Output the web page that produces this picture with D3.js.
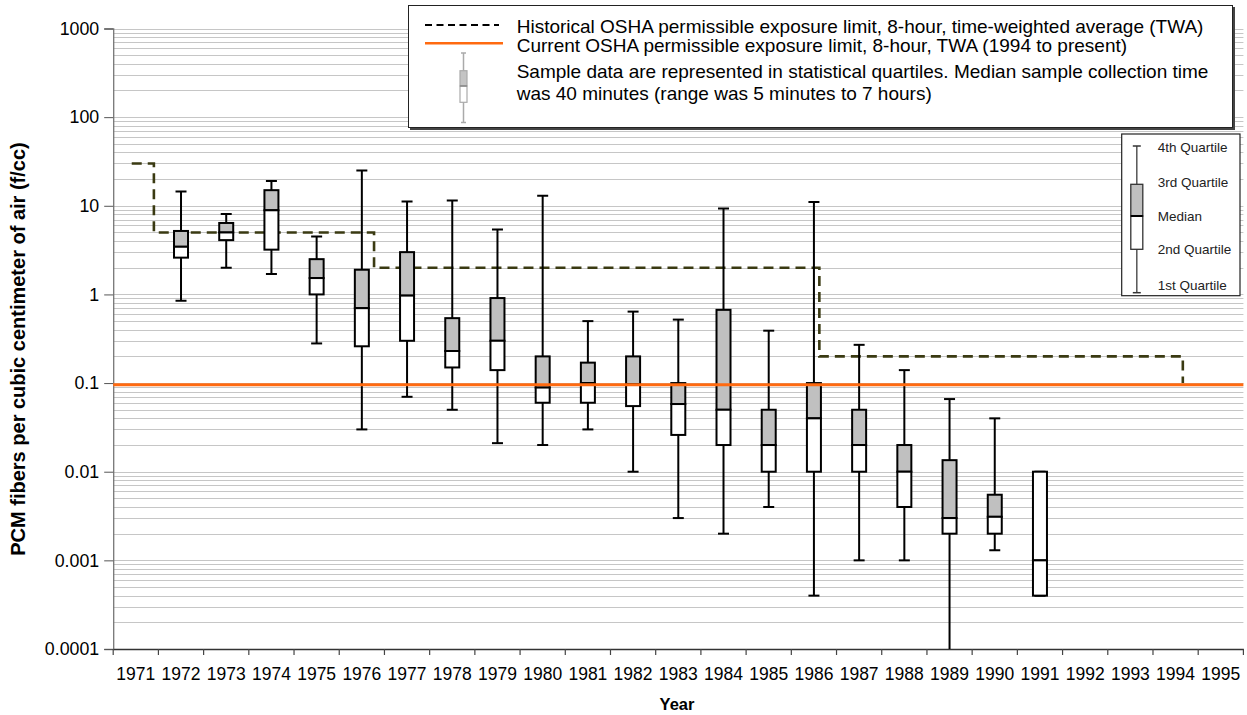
<!DOCTYPE html>
<html>
<head>
<meta charset="utf-8">
<script src="https://cdn.jsdelivr.net/npm/d3@7"></script>
<style>
  html, body { margin: 0; padding: 0; background: #fff; }
  svg { display: block; font-family: Arial, "Liberation Sans", sans-serif; }
</style>
</head>
<body>
<svg id="chart" width="1247" height="715"></svg>
<script>
// ---------------- DATA ----------------
const years = d3.range(1971, 1996).map(String);
const yTickValues = [0.0001, 0.001, 0.01, 0.1, 1, 10, 100, 1000];
const yTickLabels = ["0.0001", "0.001", "0.01", "0.1", "1", "10", "100", "1000"];

const boxYears = ["1972","1973","1974","1975","1976","1977","1978","1979","1980","1981",
                  "1982","1983","1984","1985","1986","1987","1988","1989","1990","1991"];
const maxValues    = [14.5, 8.1, 19, 4.5, 25, 11.2, 11.5, 5.4, 13, 0.5, 0.64, 0.52, 9.3, 0.39, 11, 0.27, 0.14, 0.066, 0.04, 0.01];
const q3Values     = [5.2, 6.4, 15, 2.5, 1.9, 3.0, 0.54, 0.91, 0.2, 0.17, 0.2, 0.1, 0.67, 0.05, 0.1, 0.05, 0.02, 0.0135, 0.0055, 0.01];
const medianValues = [3.45, 5.0, 8.9, 1.53, 0.70, 0.97, 0.23, 0.30, 0.089, 0.1, 0.097, 0.058, 0.05, 0.02, 0.04, 0.02, 0.01, 0.003, 0.0031, 0.001];
const q1Values     = [2.6, 4.1, 3.2, 1.0, 0.26, 0.30, 0.15, 0.14, 0.06, 0.06, 0.055, 0.026, 0.02, 0.01, 0.01, 0.01, 0.004, 0.002, 0.002, 0.0004];
const minValues    = [0.85, 2.0, 1.7, 0.28, 0.03, 0.07, 0.05, 0.021, 0.02, 0.03, 0.01, 0.003, 0.002, 0.004, 0.0004, 0.001, 0.001, 0.00005, 0.0013, 0.0004];
const upperShaded  = [true,true,true,true,true,true,true,true,true,true,true,true,true,true,true,true,true,true,true,false];

// Historical PEL step line (x in fractional year positions, value in f/cc)
const historicalPelYears  = [1970.91, 1971.40, 1976.27, 1986.12, 1994.16];
const historicalPelValues = [30, 5, 2, 0.2, 0.1];
const currentPelValue = 0.096;

const legendTexts = [
  "Historical OSHA permissible exposure limit, 8-hour, time-weighted average (TWA)",
  "Current OSHA permissible exposure limit, 8-hour, TWA (1994 to present)",
  "Sample data are represented in statistical quartiles. Median sample collection time",
  "was 40 minutes (range was 5 minutes to 7 hours)"
];
const quartileLabels = ["4th Quartile", "3rd Quartile", "Median", "2nd Quartile", "1st Quartile"];
const yTitle = "PCM fibers per cubic centimeter of air (f/cc)";
const xTitle = "Year";

// ---------------- LAYOUT ----------------
const svg = d3.select("#chart");
const plot = { left: 113.2, right: 1243.4, top: 28.5, bottom: 649 };

const x = d3.scaleBand().domain(years).range([plot.left, plot.right]).padding(0);
const xCont = d3.scaleLinear().domain([1970.5, 1995.5]).range([plot.left, plot.right]);
const y = d3.scaleLog().domain([0.0001, 1000]).range([plot.bottom, plot.top]);

svg.append("defs").append("clipPath").attr("id", "plotclip")
  .append("rect").attr("x", plot.left).attr("y", plot.top - 2)
  .attr("width", plot.right - plot.left).attr("height", plot.bottom - plot.top + 2);

// gridlines at all log ticks
const gridVals = [];
for (let e = -4; e <= 3; e++) for (let m = 1; m <= 9; m++) {
  const v = m * Math.pow(10, e);
  if (v <= 1000 * 1.0001) gridVals.push(v);
}
svg.append("g").selectAll("line").data(gridVals).join("line")
  .attr("x1", plot.left).attr("x2", plot.right)
  .attr("y1", d => Math.round(y(d)) + 0.5).attr("y2", d => Math.round(y(d)) + 0.5)
  .attr("stroke", "#c6c6c6").attr("stroke-width", 1.2);

// axes
const yAxis = d3.axisLeft(y).tickValues(yTickValues)
  .tickFormat((d, i) => yTickLabels[i]).tickSize(9).tickPadding(5);
const gy = svg.append("g").attr("transform", `translate(${plot.left},0)`).call(yAxis);
gy.select(".domain").attr("stroke", "#777").attr("stroke-width", 1.3);
gy.selectAll(".tick line").attr("stroke", "#555");
gy.selectAll(".tick text").attr("font-size", 17.8).attr("fill", "#000")
  .attr("font-family", "Arial, 'Liberation Sans', sans-serif");

const xAxis = d3.axisBottom(x).tickSize(0).tickPadding(19);
const gx = svg.append("g").attr("transform", `translate(0,${plot.bottom})`).call(xAxis);
gx.select(".domain").attr("stroke", "#333").attr("stroke-width", 1.3);
gx.selectAll(".tick text").attr("font-size", 17.5).attr("fill", "#000")
  .attr("font-family", "Arial, 'Liberation Sans', sans-serif");
// x ticks at band edges
const edges = years.map(d => x(d)).concat([plot.right]);
gx.append("g").selectAll("line").data(edges).join("line")
  .attr("x1", d => d).attr("x2", d => d).attr("y1", 0).attr("y2", 6)
  .attr("stroke", "#444").attr("stroke-width", 1.2);

// historical PEL dashed step line
const stepLine = d3.line().curve(d3.curveStepAfter)
  .x(d => xCont(d[0])).y(d => y(d[1]));
svg.append("path")
  .datum(historicalPelYears.map((t, i) => [t, historicalPelValues[i]]))
  .attr("d", stepLine).attr("fill", "none")
  .attr("stroke", "#3a3a12").attr("stroke-width", 2.6)
  .attr("stroke-dasharray", "10,6");

// box plots
const bw = 14, cap = 11;
const boxes = svg.append("g").attr("clip-path", "url(#plotclip)");
boxYears.forEach((yr, i) => {
  const cx = x(yr) + x.bandwidth() / 2;
  const g = boxes.append("g");
  g.append("line").attr("x1", cx).attr("x2", cx)
    .attr("y1", y(maxValues[i])).attr("y2", y(minValues[i]))
    .attr("stroke", "#000").attr("stroke-width", 2);
  [maxValues[i], minValues[i]].forEach(v => {
    g.append("line").attr("x1", cx - cap / 2).attr("x2", cx + cap / 2)
      .attr("y1", y(v)).attr("y2", y(v)).attr("stroke", "#000").attr("stroke-width", 2);
  });
  g.append("rect").attr("x", cx - bw / 2).attr("width", bw)
    .attr("y", y(q3Values[i])).attr("height", y(medianValues[i]) - y(q3Values[i]))
    .attr("fill", upperShaded[i] ? "#c0c0c0" : "#fff").attr("stroke", "#000").attr("stroke-width", 2);
  g.append("rect").attr("x", cx - bw / 2).attr("width", bw)
    .attr("y", y(medianValues[i])).attr("height", y(q1Values[i]) - y(medianValues[i]))
    .attr("fill", "#fff").attr("stroke", "#000").attr("stroke-width", 2);
});

// current PEL line
svg.append("line").attr("x1", plot.left).attr("x2", plot.right)
  .attr("y1", y(currentPelValue)).attr("y2", y(currentPelValue))
  .attr("stroke", "#ff6a10").attr("stroke-width", 3);

// titles
svg.append("text").attr("transform", `translate(25,349) rotate(-90)`)
  .attr("text-anchor", "middle").attr("font-weight", "bold").attr("font-size", 20)
  .text(yTitle);
svg.append("text").attr("x", 677).attr("y", 710)
  .attr("text-anchor", "middle").attr("font-weight", "bold").attr("font-size", 16.5)
  .text(xTitle);

// ---------------- TOP LEGEND ----------------
const lg = svg.append("g");
lg.append("rect").attr("x", 410).attr("y", 7).attr("width", 825).attr("height", 123).attr("fill", "#444");
lg.append("rect").attr("x", 408.5).attr("y", 5.5).attr("width", 824).attr("height", 122)
  .attr("fill", "#fff").attr("stroke", "#222").attr("stroke-width", 1);
lg.append("line").attr("x1", 425).attr("x2", 499).attr("y1", 25).attr("y2", 25)
  .attr("stroke", "#000").attr("stroke-width", 2).attr("stroke-dasharray", "7,4.5");
lg.append("line").attr("x1", 425).attr("x2", 503).attr("y1", 43.3).attr("y2", 43.3)
  .attr("stroke", "#ff6a10").attr("stroke-width", 2.5);
// mini box glyph
const gx0 = 463.5;
lg.append("line").attr("x1", gx0).attr("x2", gx0).attr("y1", 53).attr("y2", 122.5)
  .attr("stroke", "#aaa").attr("stroke-width", 1.5);
[53, 122.5].forEach(v => lg.append("line").attr("x1", gx0 - 2.5).attr("x2", gx0 + 2.5)
  .attr("y1", v).attr("y2", v).attr("stroke", "#aaa").attr("stroke-width", 1.5));
lg.append("rect").attr("x", gx0 - 3.5).attr("width", 7).attr("y", 70.7).attr("height", 15.3)
  .attr("fill", "#c4c4c4").attr("stroke", "#aaa").attr("stroke-width", 1.2);
lg.append("rect").attr("x", gx0 - 3.5).attr("width", 7).attr("y", 86).attr("height", 16.3)
  .attr("fill", "#fff").attr("stroke", "#aaa").attr("stroke-width", 1.2);
lg.append("line").attr("x1", gx0 - 3.5).attr("x2", gx0 + 3.5).attr("y1", 86).attr("y2", 86)
  .attr("stroke", "#888").attr("stroke-width", 1.5);
const legendBaselines = [32.7, 51.7, 78, 100];
legendTexts.forEach((t, i) => {
  lg.append("text").attr("x", 516.7).attr("y", legendBaselines[i])
    .attr("font-size", 19).attr("fill", "#000").text(t);
});

// ---------------- QUARTILE LEGEND ----------------
const ql = svg.append("g");
ql.append("rect").attr("x", 1121.7).attr("y", 134).attr("width", 118.3).attr("height", 161.7)
  .attr("fill", "#fff").attr("stroke", "#222").attr("stroke-width", 1.2);
const qx = 1136.8;
ql.append("line").attr("x1", qx).attr("x2", qx).attr("y1", 146).attr("y2", 292.7)
  .attr("stroke", "#555").attr("stroke-width", 1.5);
[146, 292.7].forEach(v => ql.append("line").attr("x1", qx - 4).attr("x2", qx + 4)
  .attr("y1", v).attr("y2", v).attr("stroke", "#333").attr("stroke-width", 1.5));
ql.append("rect").attr("x", qx - 6).attr("width", 12).attr("y", 184.3).attr("height", 31.7)
  .attr("fill", "#c0c0c0").attr("stroke", "#333").attr("stroke-width", 1.3);
ql.append("rect").attr("x", qx - 6).attr("width", 12).attr("y", 216).attr("height", 33.3)
  .attr("fill", "#fff").attr("stroke", "#333").attr("stroke-width", 1.3);
ql.append("line").attr("x1", qx - 6).attr("x2", qx + 6).attr("y1", 216).attr("y2", 216)
  .attr("stroke", "#000").attr("stroke-width", 2);
const qlY = [147.5, 182.5, 216, 249.5, 285];
quartileLabels.forEach((t, i) => {
  ql.append("text").attr("x", 1157.7).attr("y", qlY[i]).attr("dy", "0.35em")
    .attr("font-size", 13.5).attr("fill", "#222").text(t);
});
</script>
</body>
</html>
